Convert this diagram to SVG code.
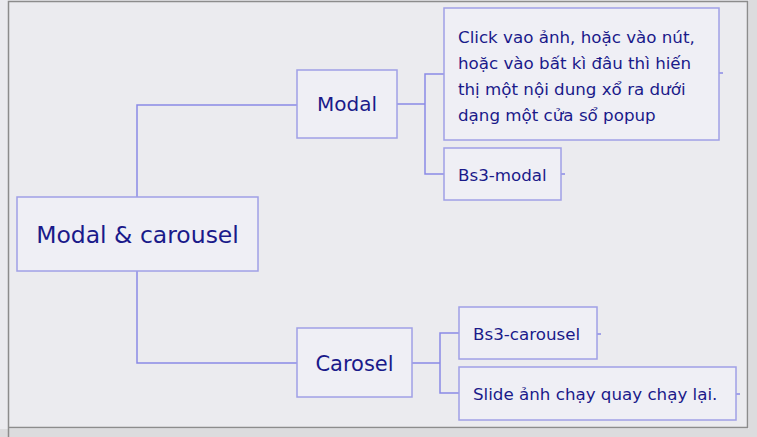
<svg xmlns="http://www.w3.org/2000/svg" width="757" height="437" viewBox="0 0 757 437">
<style>
.box{fill:#efeff5;stroke:#a0a0e6;stroke-width:1.5}
.ln{fill:none;stroke:#8a8ae6;stroke-width:1.5}
text{font-family:"Comic Sans MS","DejaVu Sans",sans-serif;fill:#1a1a8a}
.c{text-anchor:middle;dominant-baseline:central}
.l{dominant-baseline:central;font-size:16.7px}
</style>
<rect x="0" y="0" width="757" height="437" fill="#dcdcde"/>
<rect x="0" y="0" width="749" height="429" fill="#ebebef"/>
<path d="M8.5 437 V1.5 H747.5 V427.5 H8.5" fill="none" stroke="#8c8c8c" stroke-width="1.5"/>
<g id="connectors">
<path class="ln" d="M137 197 V105 H297"/>
<path class="ln" d="M137 271 V363 H297"/>
<path class="ln" d="M397 104 H425 M444 74 H425 V174 H444"/>
<path class="ln" d="M412 363 H440 M459 333 H440 V393 H459"/>
<path class="ln" d="M719 73 H723 M561 174 H565 M597 334 H601 M736 394 H740"/>
</g>
<g id="root">
<rect class="box" x="17" y="197" width="241" height="74"/>
<text class="c" x="137.5" y="235" font-size="23.5">Modal &amp; carousel</text>
</g>
<g id="modal">
<rect class="box" x="297" y="70" width="100" height="68"/>
<text class="c" x="347" y="104" font-size="20">Modal</text>
</g>
<g id="modal-desc">
<rect class="box" x="444" y="8" width="275" height="132"/>
<text class="l" x="458"><tspan x="458" y="37">Click vao ảnh, hoặc vào nút,</tspan><tspan x="458" y="63">hoặc vào bất kì đâu thì hiến</tspan><tspan x="458" y="89">thị một nội dung xổ ra dưới</tspan><tspan x="458" y="115">dạng một cửa sổ popup</tspan></text>
</g>
<g id="bs3-modal">
<rect class="box" x="444" y="148" width="117" height="52"/>
<text class="l" x="458" y="175">Bs3-modal</text>
</g>
<g id="carosel">
<rect class="box" x="297" y="328" width="115" height="69"/>
<text class="c" x="354.5" y="364" font-size="21">Carosel</text>
</g>
<g id="bs3-carousel">
<rect class="box" x="459" y="307" width="138" height="52"/>
<text class="l" x="473" y="334">Bs3-carousel</text>
</g>
<g id="slide">
<rect class="box" x="459" y="367" width="277" height="53"/>
<text class="l" x="473" y="394">Slide ảnh chạy quay chạy lại.</text>
</g>
</svg>
